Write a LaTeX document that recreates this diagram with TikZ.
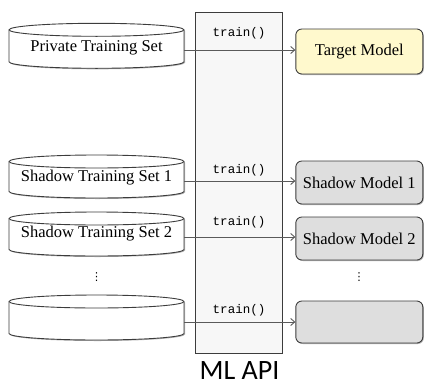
\documentclass[tikz,border=0pt]{standalone}
\usepackage{fontspec}
\setmainfont{Liberation Serif}
\newfontfamily\apifont{Carlito}
\newfontfamily\codefont{Liberation Mono}
\newfontfamily\symfont{DejaVu Sans}
\usetikzlibrary{arrows.meta,shadows}

\definecolor{apibg}{HTML}{F7F7F7}
\definecolor{targetbg}{HTML}{FFF9CD}
\definecolor{shadowbg}{HTML}{DEDEDE}
\definecolor{edge}{HTML}{3C3C3C}
\definecolor{wire}{HTML}{5A5A5A}

\tikzset{
  softshadow/.style={drop shadow={shadow xshift=1pt,shadow yshift=-1pt,opacity=0.3,fill=black}},
  drumbody/.style={draw=edge,line width=0.9pt,fill=white,softshadow},
  drumlabel/.style={font=\fontsize{16.5}{18}\selectfont,inner sep=0pt,text=black},
  modelbox/.style={draw=edge,line width=0.9pt,rounded corners=6pt,minimum width=127pt,
    font=\fontsize{16.5}{18}\selectfont,softshadow},
  apibox/.style={draw=edge,line width=0.7pt,fill=apibg},
  callname/.style={font=\codefont\fontsize{12.5}{14}\selectfont,inner sep=0pt},
  feed/.style={draw=wire,line width=0.9pt,-{Straight Barb[length=4pt,width=7pt]}},
  moredots/.style={inner sep=0pt,font=\symfont\fontsize{11}{12}\selectfont}
}

% a storage drum: left x, right x, top y, bottom y, half-height of the ellipses
\newcommand\drumshape[5]{%
  \path[drumbody] (#1,-#3-#5) -- (#1,-#4+#5)
    arc[start angle=180,end angle=360,x radius={(#2-#1)/2*1pt},y radius=#5pt]
    -- (#2,-#3-#5)
    arc[start angle=0,end angle=180,x radius={(#2-#1)/2*1pt},y radius=#5pt] -- cycle;
  \draw[draw=edge,line width=0.9pt] (#1,-#3-#5)
    arc[start angle=180,end angle=360,x radius={(#2-#1)/2*1pt},y radius=#5pt];
}

\begin{document}
\begin{tikzpicture}[x=1pt,y=1pt]
\useasboundingbox (0,0) rectangle (425,-383);

% the training service
\node[apibox,minimum width=87.7pt,minimum height=340.3pt,inner sep=0pt] (api) at (238.9,-182.9) {};
\node[font=\apifont\fontsize{28}{30}\selectfont,inner sep=0pt,anchor=base] (apiname) at (239.5,-379.5) {ML API};

% data sets
\drumshape{9}{184}{23.3}{68.3}{6.5}
\drumshape{9}{184}{155}{198}{6.5}
\drumshape{9}{184}{212}{256}{6.5}
\drumshape{9}{184}{295}{340}{6.5}

\node[drumlabel] (priv) at (96.5,-47.5) {Private Training Set};
\node[drumlabel] (set1) at (96.5,-178) {Shadow Training Set 1};
\node[drumlabel] (set2) at (96.5,-234) {Shadow Training Set 2};
\node[moredots] (setdots) at (96.5,-277) {⋮};

\coordinate (privout) at (184,-50);
\coordinate (set1out) at (184,-181);
\coordinate (set2out) at (184,-237);
\coordinate (setkout) at (184,-322);

% models
\node[modelbox,fill=targetbg,minimum height=45pt] (target) at (359.3,-51.5) {Target Model};
\node[modelbox,fill=shadowbg,minimum height=43pt] (model1) at (359.3,-182.5) {Shadow Model 1};
\node[modelbox,fill=shadowbg,minimum height=43pt] (model2) at (359.3,-238.5) {Shadow Model 2};
\node[moredots] (modeldots) at (359,-277) {⋮};
\node[modelbox,fill=shadowbg,minimum height=42pt] (modelk) at (359.3,-322) {};

% training calls
\draw[feed] (privout) -- (privout -| target.west);
\draw[feed] (set1out) -- (set1out -| model1.west);
\draw[feed] (set2out) -- (set2out -| model2.west);
\draw[feed] (setkout) -- (setkout -| modelk.west);

\node[callname] (call0) at (239,-33) {train()};
\node[callname] (call1) at (239,-170.5) {train()};
\node[callname] (call2) at (239,-222) {train()};
\node[callname] (callk) at (239,-310.5) {train()};
\end{tikzpicture}
\end{document}
